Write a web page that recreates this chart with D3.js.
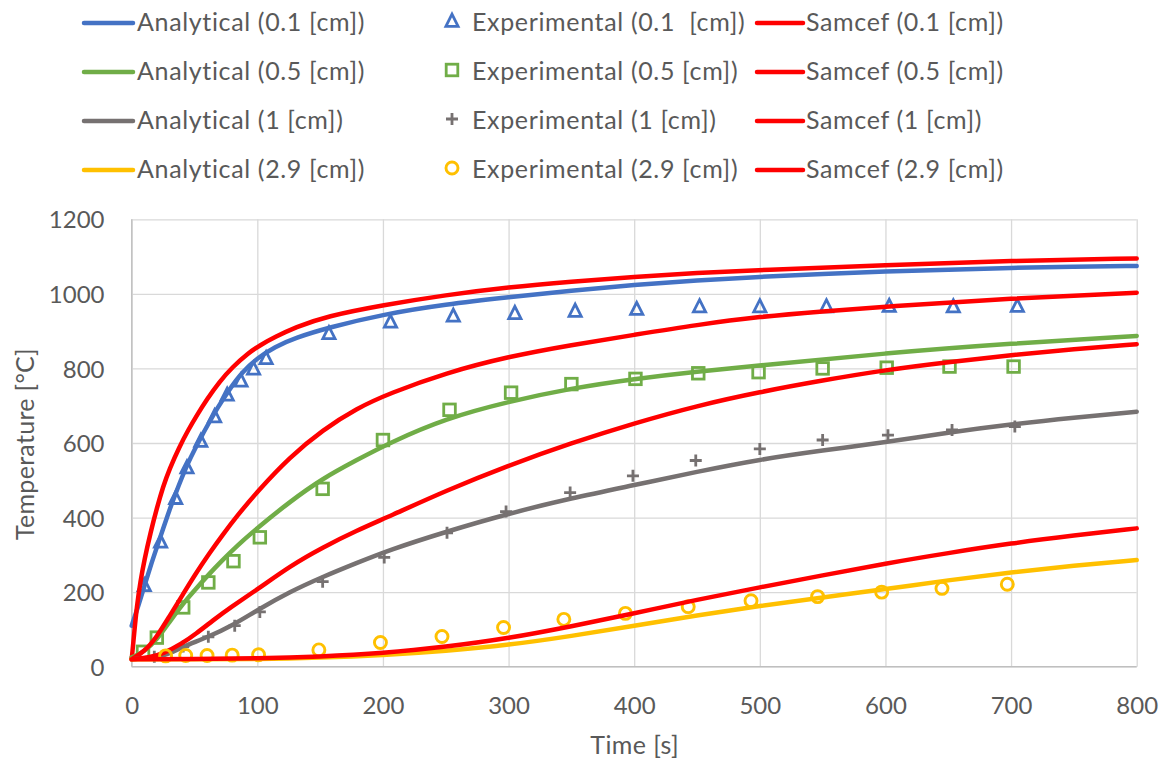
<!DOCTYPE html>
<html><head><meta charset="utf-8">
<script src="https://cdn.jsdelivr.net/npm/d3@7"></script>
<style>
body{margin:0;background:#fff}
text{font-family:Lato, "Open Sans", sans-serif; fill:#595959}
</style>
</head><body>
<svg id="chart" width="1164" height="760"></svg>
<script>
// ---------- data ----------
const xTicks = [0,100,200,300,400,500,600,700,800];
const yTicks = [0,200,400,600,800,1000,1200];

const legendLabels = [
  ["Analytical (0.1 [cm])","Experimental (0.1  [cm])","Samcef (0.1 [cm])"],
  ["Analytical (0.5 [cm])","Experimental (0.5 [cm])","Samcef (0.5 [cm])"],
  ["Analytical (1 [cm])","Experimental (1 [cm])","Samcef (1 [cm])"],
  ["Analytical (2.9 [cm])","Experimental (2.9 [cm])","Samcef (2.9 [cm])"]
];

// Analytical 0.1 cm
const anaT01 = [0,5,10,15,20,25,30,35,40,45,50,56,62,68,78,88,100,114,130,157,200,250,300,350,400,450,500,550,600,650,700,750,800];
const anaV01 = [110,160,215,270,320,370,420,465,508,548,582,621,657,693,745,790,828,858,882,910,945,972,991,1009,1024,1036,1046,1053,1060,1065,1070,1073,1075];
// Experimental 0.1 cm
const expT01 = [10,23,35,44,55,66,76,87,97,107,157,206,256,305,353,402,452,500,553,603,654,705];
const expV01 = [218,335,452,534,605,671,729,767,799,827,894,925,941,948,954,959,966,966,966,967,966,967];
// Samcef 0.1 cm
const samT01 = [0,2,4,7,10,15,20,25,30,38,45,52,60,70,80,93,102,114,130,155,200,250,300,350,400,450,500,600,700,800];
const samV01 = [20,90,160,230,285,360,425,483,530,590,635,675,718,765,803,842,862,884,910,940,970,997,1018,1033,1046,1056,1064,1077,1089,1095];

// Analytical 0.5 cm
const anaT05 = [0,10,20,30,41,50,62,72,84,100,126,152,179,205,250,300,350,400,450,500,600,700,800];
const anaV05 = [25,40,72,120,170,205,250,285,325,372,443,505,554,600,666,711,747,772,792,808,841,867,887];
// Experimental 0.5 cm
const expT05 = [9,20,41,61,81,102,152,200,253,302,350,401,451,499,550,601,651,702];
const expV05 = [40,78,159,226,283,347,477,608,689,735,758,772,787,790,800,802,805,805];
// Samcef 0.5 cm
const samT05 = [0,10,20,30,41,50,62,72,84,100,126,152,179,205,250,300,350,400,450,500,550,600,700,800];
const samV05 = [20,40,80,135,195,245,305,352,405,470,563,635,693,733,788,832,863,890,917,939,953,966,988,1003];

// Analytical 1 cm
const anaT1 = [0,20,30,41,61,81,100,126,152,179,205,250,300,350,400,450,500,550,600,650,700,750,800];
const anaV1 = [20,25,35,54,80,112,152,201,241,278,313,362,411,452,487,523,556,580,602,628,650,668,684];
// Experimental 1 cm
const expT1 = [18,41,61,82,102,152,201,251,298,349,399,449,500,550,602,653,703];
const expV1 = [27,54,80,110,147,228,293,359,416,467,512,553,584,608,621,635,644];
// Samcef 1 cm
const samT1 = [0,15,25,40,51,65,78,100,126,152,179,205,250,300,350,400,450,500,550,600,650,700,750,800];
const samV1 = [20,25,35,62,88,125,158,207,270,320,365,403,472,540,600,653,700,737,768,796,817,836,852,865];

// Analytical 2.9 cm
const anaT29 = [0,50,100,150,200,250,300,350,400,450,500,550,600,650,700,750,800];
const anaV29 = [20,20,20,24,31,42,58,82,110,138,163,186,208,232,253,271,286];
// Experimental 2.9 cm
const expT29 = [27,43,60,80,101,149,198,247,296,344,393,443,493,546,597,645,697];
const expV29 = [29,30,30,31,32,45,65,81,105,127,143,161,177,188,200,210,221];
// Samcef 2.9 cm
const samT29 = [0,50,100,150,200,250,300,350,400,450,500,550,600,650,700,750,800];
const samV29 = [20,20,22,27,36,53,76,108,143,180,213,245,277,305,331,352,371];

// ---------- chart ----------
const colBlue = "#4472C4", colGreen = "#70AD47", colGray = "#767171", colYellow = "#FFC000", colRed = "#FF0000";
const zip = (t, v) => t.map((d, i) => [d, v[i]]);

const series = [
  {type:"line", data: zip(anaT01, anaV01), color: colBlue},
  {type:"tri",  data: zip(expT01, expV01), color: colBlue},
  {type:"line", data: zip(samT01, samV01), color: colRed},
  {type:"line", data: zip(anaT05, anaV05), color: colGreen},
  {type:"sq",   data: zip(expT05, expV05), color: colGreen},
  {type:"line", data: zip(samT05, samV05), color: colRed},
  {type:"line", data: zip(anaT1, anaV1), color: colGray},
  {type:"plus", data: zip(expT1, expV1), color: colGray},
  {type:"line", data: zip(samT1, samV1), color: colRed},
  {type:"line", data: zip(anaT29, anaV29), color: colYellow},
  {type:"circ", data: zip(expT29, expV29), color: colYellow},
  {type:"line", data: zip(samT29, samV29), color: colRed}
];

const L = 131.7, R = 1136.7, T = 219.3, B = 666.7;
const x = d3.scaleLinear().domain([0, 800]).range([L, R]);
const y = d3.scaleLinear().domain([0, 1200]).range([B, T]);
const svg = d3.select("#chart");
const FS = 24;

// grid
const gx = svg.append("g").attr("transform", `translate(0,${B})`)
  .call(d3.axisBottom(x).tickValues(xTicks).tickSize(-(B - T)).tickFormat(""));
const gy = svg.append("g").attr("transform", `translate(${L},0)`)
  .call(d3.axisLeft(y).tickValues(yTicks).tickSize(-(R - L)).tickFormat(""));
[gx, gy].forEach(g => {
  g.select(".domain").remove();
  g.selectAll(".tick line").attr("stroke", "#d9d9d9").attr("stroke-width", 1.3);
});
// axis lines
svg.append("line").attr("x1", L).attr("x2", R).attr("y1", B).attr("y2", B).attr("stroke", "#bfbfbf").attr("stroke-width", 1.3);
svg.append("line").attr("x1", L).attr("x2", L).attr("y1", T).attr("y2", B).attr("stroke", "#bfbfbf").attr("stroke-width", 1.3);

// tick labels
const ax = svg.append("g").attr("transform", `translate(0,${B})`)
  .call(d3.axisBottom(x).tickValues(xTicks).tickSize(0).tickPadding(0).tickFormat(d3.format("d")));
ax.select(".domain").remove();
ax.selectAll("text").attr("font-family", null).attr("font-size", FS).attr("fill", "#595959")
  .attr("dy", null).attr("y", 714 - B);
ax.attr("font-family", null).attr("font-size", null);

const ay = svg.append("g").attr("transform", `translate(${L},0)`)
  .call(d3.axisLeft(y).tickValues(yTicks).tickSize(0).tickPadding(0).tickFormat(d3.format("d")));
ay.select(".domain").remove();
ay.selectAll("text").attr("font-family", null).attr("font-size", FS).attr("fill", "#595959")
  .attr("dy", null).attr("x", 104.5 - L).attr("y", 8.6);
ay.attr("font-family", null).attr("font-size", null);

// axis titles
svg.append("text").attr("x", (L + R) / 2 + 0.5).attr("y", 753.5).attr("text-anchor", "middle")
  .attr("font-size", 25).attr("letter-spacing", 0.4).text("Time [s]");
svg.append("text").attr("transform", "translate(33.5,444) rotate(-90)").attr("text-anchor", "middle")
  .attr("font-size", 25).attr("letter-spacing", 0.3).text("Temperature [°C]");

// marker shapes
function drawMarker(g, type, color) {
  if (type === "tri") {
    g.append("path").attr("d", "M0,-6.8L6.1,5.3L-6.1,5.3Z").attr("fill", "none").attr("stroke", color).attr("stroke-width", 2.8);
  } else if (type === "sq") {
    g.append("rect").attr("x", -5.8).attr("y", -5.8).attr("width", 11.6).attr("height", 11.6)
      .attr("fill", "none").attr("stroke", color).attr("stroke-width", 2.8);
  } else if (type === "circ") {
    g.append("circle").attr("r", 6).attr("fill", "none").attr("stroke", color).attr("stroke-width", 2.9);
  } else if (type === "plus") {
    g.append("path").attr("d", "M-6,0H6M0,-6V6").attr("fill", "none").attr("stroke", color).attr("stroke-width", 2.8);
  }
}

// series
const lineGen = d3.line().x(d => x(d[0])).y(d => y(d[1])).curve(d3.curveBasis);
const plot = svg.append("g");
series.forEach(s => {
  if (s.type === "line") {
    plot.append("path").datum(s.data).attr("d", lineGen).attr("fill", "none")
      .attr("stroke", s.color).attr("stroke-width", 4.5).attr("stroke-linecap", "round").attr("stroke-linejoin", "round");
  } else {
    s.data.forEach(d => {
      const g = plot.append("g").attr("transform", `translate(${x(d[0])},${y(d[1])})`);
      drawMarker(g, s.type, s.color);
    });
  }
});

// legend
const rowY = [23, 72, 121, 170];
const legend = svg.append("g");
legendLabels.forEach((row, r) => {
  const yy = rowY[r];
  const sA = series[r * 3], sE = series[r * 3 + 1], sS = series[r * 3 + 2];
  legend.append("line").attr("x1", 84).attr("x2", 133).attr("y1", yy).attr("y2", yy)
    .attr("stroke", sA.color).attr("stroke-width", 4.5).attr("stroke-linecap", "round");
  legend.append("text").attr("x", 137).attr("y", yy + 7.8).attr("font-size", 25).attr("letter-spacing", 0.65).text(row[0]);
  const mg = legend.append("g").attr("transform", `translate(452,${yy - 2})`);
  drawMarker(mg, sE.type, sE.color);
  legend.append("text").attr("x", 472).attr("y", yy + 7.8).attr("font-size", 25).attr("letter-spacing", 0.65)
    .style("white-space", "pre").text(row[1]);
  legend.append("line").attr("x1", 757).attr("x2", 803).attr("y1", yy).attr("y2", yy)
    .attr("stroke", sS.color).attr("stroke-width", 4.5).attr("stroke-linecap", "round");
  legend.append("text").attr("x", 806).attr("y", yy + 7.8).attr("font-size", 25).attr("letter-spacing", 0.65).text(row[2]);
});
</script>
</body></html>
